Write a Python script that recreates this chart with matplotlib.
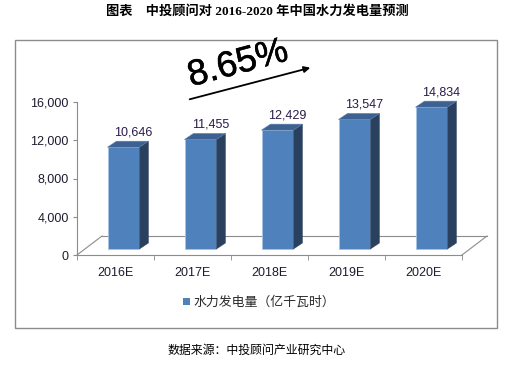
import matplotlib
matplotlib.use('Agg')
import matplotlib.pyplot as plt
from matplotlib.patches import Polygon, Rectangle, FancyArrowPatch
from matplotlib.transforms import ScaledTranslation, IdentityTransform
from matplotlib.lines import Line2D
import matplotlib.patheffects as pe
import numpy as np

categories = ['2016E', '2017E', '2018E', '2019E', '2020E']
values = [10646, 11455, 12429, 13547, 14834]
value_labels = ['10,646', '11,455', '12,429', '13,547', '14,834']
yticks = [0, 4000, 8000, 12000, 16000]
ytick_labels = ['0', '4,000', '8,000', '12,000', '16,000']
legend_label = '水力发电量（亿千瓦时）'
title = '图表　中投顾问对 2016-2020 年中国水力发电量预测'
source = '数据来源：中投顾问产业研究中心'
growth = '8.65%'

W, H = 519, 366
DPI = 100
fig = plt.figure(figsize=(W / DPI, H / DPI), dpi=DPI)
fig.patch.set_facecolor('white')

def fx(x):
    return x / W

def fy(y):
    return 1 - y / H

CJK = ['Noto Sans CJK SC', 'DejaVu Sans']
SERIF_CJK = ['Liberation Serif', 'Noto Sans CJK SC']
LAT = ['Liberation Sans', 'DejaVu Sans']
txt_col = '#1c1c30'

# outer frame
fig.add_artist(Rectangle((fx(15), fy(328)), fx(497) - fx(15), fy(40) - fy(328),
                         transform=fig.transFigure, fill=False,
                         edgecolor='#8c8c8c', lw=1.0))

# main axes
ax = fig.add_axes([fx(77), fy(255), fx(462) - fx(77), fy(102) - fy(255)])
ax.set_xlim(-0.5, len(categories) - 0.5)
ax.set_ylim(0, 16000)
ax.patch.set_visible(False)
for s in ['top', 'right']:
    ax.spines[s].set_visible(False)
for s in ['left', 'bottom']:
    ax.spines[s].set_color('#8c8c8c')
    ax.spines[s].set_linewidth(0.8)

ax.set_yticks(yticks)
ax.set_yticklabels(ytick_labels, fontfamily=LAT, fontsize=9, color=txt_col)
ax.tick_params(axis='y', length=3, color='#8c8c8c', pad=3)
x = np.arange(len(categories))
ax.set_xticks(x)
ax.set_xticklabels(categories, fontfamily=LAT, fontsize=9, color=txt_col)
ax.set_xticks(np.arange(len(categories) + 1) - 0.5, minor=True)
ax.tick_params(axis='x', which='major', length=0, pad=9)
ax.tick_params(axis='x', which='minor', length=3.5, color='#8c8c8c')

# 3D floor (back lines)
depth_floor = (25, 19)  # px right, up
off_back = ax.transData + ScaledTranslation(depth_floor[0] / DPI, depth_floor[1] / DPI, fig.dpi_scale_trans)
x0, x1 = -0.5, len(categories) - 0.5
ax.add_line(Line2D([x0, x1], [0, 0], transform=off_back, color='#8c8c8c', lw=0.8, clip_on=False, zorder=1))
for xe in (x0, x1):
    p = ax.transData.transform((xe, 0))
    ax.add_line(Line2D([p[0], p[0] + depth_floor[0]], [p[1], p[1] + depth_floor[1]],
                       transform=IdentityTransform(), color='#8c8c8c', lw=0.8, clip_on=False, zorder=1))

# bars (front face, shifted into the 3D depth)
front_off = (8, 6)
bar_depth = (9, 6)
bw = 0.415
off_front = ax.transData + ScaledTranslation(front_off[0] / DPI, front_off[1] / DPI, fig.dpi_scale_trans)
bars = ax.bar(x, values, width=bw, color='#4f81bd', edgecolor='#a9c3e3', linewidth=0.6, zorder=3)
for b in bars:
    b.set_transform(off_front)
    b.set_clip_on(False)

for xi, v in zip(x, values):
    br = ax.transData.transform((xi + bw / 2, 0)) + np.array(front_off)
    tl = ax.transData.transform((xi - bw / 2, v)) + np.array(front_off)
    tr = ax.transData.transform((xi + bw / 2, v)) + np.array(front_off)
    d = np.array(bar_depth)
    side = Polygon([br, tr, tr + d, br + d], closed=True, transform=IdentityTransform(),
                   facecolor='#29405f', edgecolor='#29405f', lw=0.3, clip_on=False, zorder=3)
    top = Polygon([tl, tr, tr + d, tl + d], closed=True, transform=IdentityTransform(),
                  facecolor='#3d6190', edgecolor='#5a7fae', lw=0.4, clip_on=False, zorder=3)
    ax.add_patch(side)
    ax.add_patch(top)

# value labels
lab_off = ax.transData + ScaledTranslation(18 / DPI, 21 / DPI, fig.dpi_scale_trans)
for xi, v, lab in zip(x, values, value_labels):
    ax.text(xi, v, lab, transform=lab_off, ha='center', va='center',
            fontfamily=LAT, fontsize=9, color='#2a1a4a', clip_on=False)

# title
fig.text(fx(257), fy(11), title, ha='center', va='center', fontsize=9.5,
         fontweight='bold', family=SERIF_CJK, color='black')

# growth text and arrow
fig.text(fx(238), fy(64), growth, ha='center', va='center', fontsize=26,
         rotation=15, rotation_mode='anchor', family=LAT, color='black',
         path_effects=[pe.withStroke(linewidth=0.4, foreground='black')])
fig.add_artist(FancyArrowPatch(posA=(fx(187), fy(100)), posB=(fx(313), fy(67)),
                               transform=fig.transFigure, arrowstyle='-|>',
                               mutation_scale=9, lw=1.3, color='black'))

# legend
fig.add_artist(Rectangle((fx(183), fy(305)), fx(7) - fx(0), fy(0) - fy(7),
                         transform=fig.transFigure, facecolor='#4f81bd', edgecolor='none'))
fig.text(fx(194), fy(302), legend_label, ha='left', va='center', fontsize=9.3,
         family=CJK, color='#2a2a2a')

# source
fig.text(fx(257), fy(350), source, ha='center', va='center', fontsize=8.6,
         family=CJK, color='black')

fig.savefig('out.png', dpi=DPI, facecolor='white')
